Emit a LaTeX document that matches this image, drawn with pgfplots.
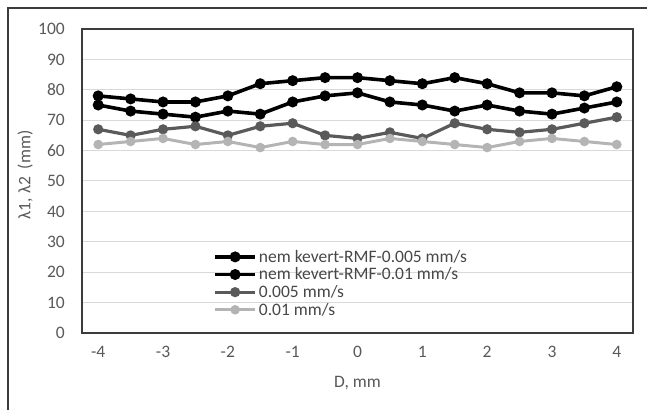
\documentclass[border=0pt]{standalone}
\usepackage{pgfplots}
\pgfplotsset{compat=1.18}
\usepackage{fontspec}
\setmainfont{Carlito}
\definecolor{txtgray}{HTML}{595959}
\definecolor{darkser}{HTML}{5A5A5A}
\definecolor{lightser}{HTML}{B4B4B4}
\definecolor{gridgray}{HTML}{D9D9D9}
\definecolor{framegray}{HTML}{3C3C3C}
\begin{document}
\begin{tikzpicture}
\useasboundingbox (-82bp,-77bp) rectangle (565bp,333bp);
% outer chart border (cropped: only left and top visible)
\draw[framegray, line width=1.2bp] (-74bp,-77bp) -- (-74bp,325bp) -- (565bp,325bp);
\begin{axis}[
    scale only axis,
    width=551bp, height=304bp,
    xmin=-4.25, xmax=4.25, ymin=0, ymax=100,
    xtick={-4,-3,-2,-1,0,1,2,3,4},
    ytick={0,10,...,100},
    major tick length=0pt,
    ymajorgrids,
    grid style={gridgray, line width=1bp},
    axis line style={framegray, line width=1.3bp},
    font=\fontsize{17.5bp}{20bp}\selectfont,
    /pgf/number format/assume math mode=true,
    ticklabel style={txtgray, inner sep=0pt},
    yticklabel style={anchor=east, xshift=-17bp},
    xticklabel style={anchor=north, yshift=-13bp},
    xlabel={D, mm},
    ylabel={λ1, λ2\ \ (mm)},
    xlabel style={at={(axis description cs:0.5,-0.164)}, anchor=center, txtgray},
    ylabel style={at={(axis description cs:-0.103,0.52)}, anchor=center, txtgray},
    legend cell align=left,
    legend style={at={(axis description cs:0.238,0.28)}, anchor=north west,
        draw=none, fill=none, text=txtgray!80!black, inner sep=0pt,
        row sep=0pt, font=\fontsize{17.5bp}{20bp}\selectfont},
    legend image code/.code={
        \draw[mark repeat=2, mark phase=2, #1] plot coordinates {(0bp,0bp) (20bp,0bp) (40bp,0bp)};
    },
    every axis plot/.append style={mark=*},
]
\addplot[black, line width=3.6bp, mark size=3.6bp] coordinates {
(-4,78) (-3.5,77) (-3,76) (-2.5,76) (-2,78) (-1.5,82) (-1,83) (-0.5,84) (0,84)
(0.5,83) (1,82) (1.5,84) (2,82) (2.5,79) (3,79) (3.5,78) (4,81)};
\addplot[black, line width=3.6bp, mark size=3.6bp] coordinates {
(-4,75) (-3.5,73) (-3,72) (-2.5,71) (-2,73) (-1.5,72) (-1,76) (-0.5,78) (0,79)
(0.5,76) (1,75) (1.5,73) (2,75) (2.5,73) (3,72) (3.5,74) (4,76)};
\addplot[darkser, line width=3.2bp, mark size=3.4bp] coordinates {
(-4,67) (-3.5,65) (-3,67) (-2.5,68) (-2,65) (-1.5,68) (-1,69) (-0.5,65) (0,64)
(0.5,66) (1,64) (1.5,69) (2,67) (2.5,66) (3,67) (3.5,69) (4,71)};
\addplot[lightser, line width=3bp, mark size=3.2bp] coordinates {
(-4,62) (-3.5,63) (-3,64) (-2.5,62) (-2,63) (-1.5,61) (-1,63) (-0.5,62) (0,62)
(0.5,64) (1,63) (1.5,62) (2,61) (2.5,63) (3,64) (3.5,63) (4,62)};
\legend{nem kevert-RMF-0.005 mm/s, nem kevert-RMF-0.01 mm/s, 0.005 mm/s, 0.01 mm/s}
\end{axis}
\end{tikzpicture}
\end{document}
